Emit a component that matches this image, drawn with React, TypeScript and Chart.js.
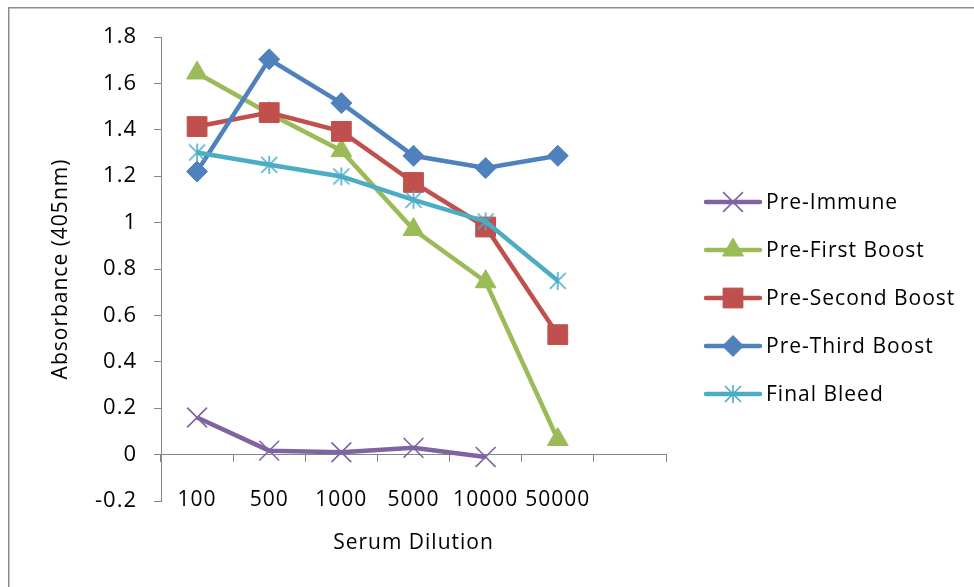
import React, { useEffect, useRef } from 'react';
import { Chart, registerables } from 'chart.js';
import { drawPoint } from 'chart.js/helpers';

Chart.register(...registerables);

// ---------- data ----------
const categories = ['100', '500', '1000', '5000', '10000', '50000', ''];
const seriesNames = ['Pre-Immune', 'Pre-First Boost', 'Pre-Second Boost', 'Pre-Third Boost', 'Final Bleed'];
const preImmune = [0.16, 0.017, 0.01, 0.029, -0.01, null];
const preFirstBoost = [1.645, 1.47, 1.31, 0.97, 0.745, 0.065];
const preSecondBoost = [1.414, 1.474, 1.393, 1.173, 0.981, 0.517];
const preThirdBoost = [1.22, 1.704, 1.515, 1.288, 1.235, 1.288];
const finalBleed = [1.302, 1.249, 1.199, 1.098, 1.005, 0.749];
const yMin = -0.2;
const yMax = 1.8;
const yStep = 0.2;
const xTitle = 'Serum Dilution';
const yTitle = 'Absorbance (405nm)';

// ---------- styles ----------
const FONT = '"Open Sans", "DejaVu Sans", sans-serif';
const AXIS = '#868686';
const colors = ['#8064A2', '#9BBB59', '#C0504D', '#4F81BD', '#4BACC6'];

function makeAsterisk(color: string) {
  const c = document.createElement('canvas');
  c.width = 22;
  c.height = 22;
  const g = c.getContext('2d')!;
  g.strokeStyle = color;
  g.lineWidth = 1.6;
  g.beginPath();
  g.moveTo(3, 3); g.lineTo(19, 19);
  g.moveTo(19, 3); g.lineTo(3, 19);
  g.moveTo(11, 2); g.lineTo(11, 20);
  g.stroke();
  return c;
}

// horizontal texts get a little tracking; the y axis (drawn after datasets) does not
const spacing = {
  id: 'spacing',
  beforeLayout(chart: any) { (chart.ctx as any).letterSpacing = '1px'; },
  beforeDraw(chart: any) { (chart.ctx as any).letterSpacing = '1px'; },
  afterDatasetsDraw(chart: any) { (chart.ctx as any).letterSpacing = '0px'; },
};

const outerBorder = {
  id: 'outerBorder',
  beforeDraw(chart: any) {
    const ctx = chart.ctx;
    ctx.save();
    ctx.strokeStyle = '#8c8c8c';
    ctx.lineWidth = 1.5;
    ctx.beginPath();
    ctx.moveTo(8.75, chart.height + 5);
    ctx.lineTo(8.75, 7.75);
    ctx.lineTo(chart.width + 5, 7.75);
    ctx.stroke();
    ctx.restore();
  },
};

const lineLegend = {
  id: 'lineLegend',
  afterDraw(chart: any) {
    const ctx = chart.ctx;
    const x0 = chart.chartArea.right + 40;
    const x1 = x0 + 54;
    chart.data.datasets.forEach((ds: any, i: number) => {
      const y = 202 + i * 48;
      ctx.save();
      ctx.strokeStyle = ds.borderColor;
      ctx.lineWidth = ds.borderWidth;
      ctx.lineCap = 'round';
      ctx.beginPath();
      ctx.moveTo(x0, y);
      ctx.lineTo(x1, y);
      ctx.stroke();
      ctx.fillStyle = ds.pointBackgroundColor;
      ctx.strokeStyle = ds.pointBorderColor;
      ctx.lineWidth = ds.pointBorderWidth;
      ctx.lineCap = 'butt';
      drawPoint(ctx, { pointStyle: ds.pointStyle, radius: ds.pointRadius, borderWidth: ds.pointBorderWidth, rotation: 0 } as any, (x0 + x1) / 2, y);
      ctx.fillStyle = '#000';
      ctx.font = `21px ${FONT}`;
      ctx.letterSpacing = '1px';
      ctx.textBaseline = 'middle';
      ctx.textAlign = 'left';
      ctx.fillText(ds.label, x1 + 6, y + 1);
      ctx.restore();
    });
  },
};

export default function App() {
  const ref = useRef<HTMLCanvasElement>(null);
  useEffect(() => {
    const values = [preImmune, preFirstBoost, preSecondBoost, preThirdBoost, finalBleed];
    const styles: any[] = ['crossRot', 'triangle', 'rect', 'rectRot', makeAsterisk(colors[4])];
    const radii = [14, 12, 14, 10.5, 10];
    const pbw = [1.6, 1, 1, 1, 1.6];
    const datasets = seriesNames.map((name, i) => ({
      label: name,
      data: values[i],
      borderColor: colors[i],
      backgroundColor: colors[i],
      borderWidth: 4.5,
      tension: 0,
      pointStyle: styles[i],
      pointRadius: radii[i],
      pointHoverRadius: radii[i],
      pointBorderWidth: pbw[i],
      pointBackgroundColor: colors[i],
      pointBorderColor: colors[i],
      order: seriesNames.length - i,
    }));
    const chart = new Chart(ref.current!, {
      type: 'line',
      data: { labels: categories, datasets },
      plugins: [spacing, outerBorder, lineLegend],
      options: {
        animation: false,
        responsive: true,
        maintainAspectRatio: false,
        layout: { padding: { top: 37, right: 308, bottom: 0, left: 0 } },
        font: { family: FONT, size: 21 },
        plugins: { legend: { display: false }, tooltip: { enabled: false } },
        scales: {
          x: {
            type: 'category',
            position: { y: 0 } as any,
            offset: true,
            ticks: { display: false },
            grid: { display: true, drawOnChartArea: false, drawTicks: true, tickLength: 7, color: AXIS, offset: true, lineWidth: 1 },
            border: { display: true, color: AXIS, width: 1 },
          },
          x2: {
            type: 'category',
            position: 'bottom',
            offset: true,
            grid: { display: false },
            border: { display: false },
            ticks: { mirror: true, padding: -12, autoSkip: false, maxRotation: 0, minRotation: 0, color: '#000', font: { family: FONT, size: 21 } },
            title: { display: true, text: xTitle, color: '#000', font: { family: FONT, size: 21 }, padding: { top: 0, bottom: 31 } },
            afterFit: (s: any) => { s.height = 86; },
          },
          y: {
            type: 'linear',
            position: 'left',
            z: 1,
            min: yMin,
            max: yMax,
            ticks: {
              stepSize: yStep,
              padding: 17,
              color: '#000',
              font: { family: FONT, size: 22 },
              callback: (v: any) => String(Math.round(Number(v) * 10) / 10),
            },
            grid: { display: true, drawOnChartArea: false, drawTicks: true, tickLength: 7, color: AXIS, lineWidth: 1 },
            border: { display: true, color: AXIS, width: 1 },
            title: { display: true, text: yTitle, color: '#000', font: { family: FONT, size: 21 }, padding: { top: 48, bottom: 0 } },
            afterFit: (s: any) => { s.width = 161; },
          },
        },
      } as any,
    });
    return () => chart.destroy();
  }, []);
  return (
    <div style={{ position: 'fixed', left: 0, top: 0, width: 974, height: 587, background: '#fff' }}>
      <canvas ref={ref} />
    </div>
  );
}
